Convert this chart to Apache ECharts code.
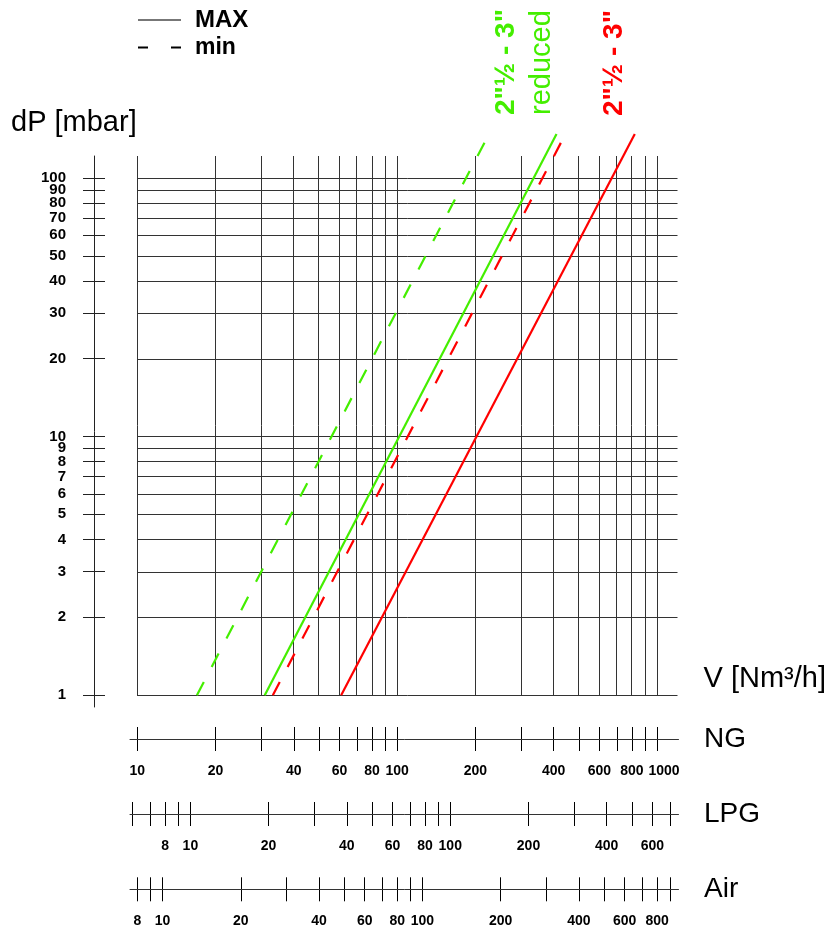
<!DOCTYPE html>
<html><head><meta charset="utf-8">
<script src="https://cdn.jsdelivr.net/npm/echarts@6/dist/echarts.min.js"></script>
<style>html,body{margin:0;padding:0;background:#fff}#c{width:832px;height:935px}</style>
</head><body><div id="c"></div>
<script>
// ---- data ----
const dpTicks = [1,2,3,4,5,6,7,8,9,10,20,30,40,50,60,70,80,90,100];
const ngTicks = [10,20,30,40,50,60,70,80,90,100,200,300,400,500,600,700,800,900,1000];
const ngLabels = [10,20,40,60,80,100,200,400,600,800,1000];
const lpgTicks = [6,7,8,9,10,20,30,40,50,60,70,80,90,100,200,300,400,500,600,700];
const lpgLabels = [8,10,20,40,60,80,100,200,400,600];
const airTicks = [8,9,10,20,30,40,50,60,70,80,90,100,200,300,400,500,600,700,800,900];
const airLabels = [8,10,20,40,60,80,100,200,400,600,800];
// [flow NG Nm3/h, dP mbar]
const reducedMax = [[31,1],[411,148]];
const reducedMin = [[17,1],[226,148]];
const standardMax = [[61,1],[822,148]];
const standardMin = [[33.3,1],[445,148]];
// scale conversions (NG flow / other gas flow)
const NG_PER_LPG = 1.6;
const NG_PER_AIR = 1.25;
const NG_MIN = 9.37, NG_MAX = 1209;
const DP_MIN_AXIS = 0.8987, DP_MAX = 121.6;

const GREEN = '#44ee00', RED = '#ff0000';
const FONT = '"Liberation Sans", Arial, Helvetica, sans-serif';
const GRID_COLOR = '#333';
const LABEL_RICH = { w: { fontSize: 14, fontWeight: 'bold', color: '#000', fontFamily: FONT, padding: [0, 0, 0, 14] } };

// a blank trailing label keeps the last real label from being dropped by the min/max overlap check
function withBlankEnd(labels, endValue) { return labels.concat([endValue]); }
function blankAbove(limit) {
  return function (v) {
    if (v > limit * 1.0001) return '';
    const s = String(Math.round(v));
    return s.length >= 4 ? '{w|' + s + '}' : s;
  };
}

function scaleAxis(gridIndex, min, max, ticks, labels, name) {
  return {
    type: 'log', gridIndex, min, max, logBase: 10,
    axisLine: { show: true, onZero: true, lineStyle: { color: '#333', width: 1 } },
    axisTick: { show: false, customValues: ticks },
    splitLine: { show: true, lineStyle: { color: '#000', width: 1 } },
    axisLabel: {
      customValues: withBlankEnd(labels, max), formatter: blankAbove(labels[labels.length - 1]),
      margin: 13, fontSize: 14, fontWeight: 'bold', color: '#000', fontFamily: FONT, rich: LABEL_RICH
    },
    name, nameLocation: 'end', nameGap: 25.5,
    nameTextStyle: { fontSize: 28, color: '#000', fontFamily: FONT }
  };
}
function hiddenVal(gridIndex, min, max) {
  return { type: 'value', gridIndex, min, max, show: false, splitLine: { show: false } };
}

const chart = echarts.init(document.getElementById('c'), null, { renderer: 'canvas' });
const option = {
  animation: false,
  backgroundColor: '#fff',
  textStyle: { fontFamily: FONT },
  title: {
    text: 'dP [mbar]', left: 6, top: 103,
    textStyle: { fontSize: 29, fontWeight: 'normal', color: '#000', fontFamily: FONT }
  },
  legend: {
    orient: 'vertical', left: 132, top: 3, itemWidth: 43, itemHeight: 14, itemGap: 4,
    itemStyle: { opacity: 0 },
    data: [
      { name: 'MAX', textStyle: { fontSize: 24 } },
      { name: 'min', textStyle: { fontSize: 23 } }
    ],
    textStyle: { fontWeight: 'bold', color: '#000', fontFamily: FONT, padding: [0, 0, 0, 9] }
  },
  grid: [
    { left: 137, right: 154.5, top: 156, bottom: 239.7 },
    { left: 94, width: 1, top: 156, bottom: 228 },
    { left: 130, right: 153.5, top: 727, height: 24 },
    { left: 130, right: 153.5, top: 802, height: 24 },
    { left: 130, right: 153.5, top: 877.3, height: 24 }
  ],
  xAxis: [
    {
      type: 'log', gridIndex: 0, min: 10, max: 1200, logBase: 10,
      axisLine: { show: false }, axisTick: { show: false, customValues: ngTicks },
      axisLabel: { show: false },
      splitLine: { show: true, lineStyle: { color: GRID_COLOR, width: 1 } },
      name: 'V [Nm³/h]', nameLocation: 'end', nameGap: 26,
      nameTextStyle: { fontSize: 29, color: '#000', verticalAlign: 'bottom', padding: [0, 0, 2, 0], fontFamily: FONT }
    },
    hiddenVal(1, 0, 1),
    scaleAxis(2, NG_MIN, NG_MAX, ngTicks, ngLabels, 'NG'),
    scaleAxis(3, NG_MIN / NG_PER_LPG, NG_MAX / NG_PER_LPG, lpgTicks, lpgLabels, 'LPG'),
    scaleAxis(4, NG_MIN / NG_PER_AIR, NG_MAX / NG_PER_AIR, airTicks, airLabels, 'Air')
  ],
  yAxis: [
    {
      type: 'log', gridIndex: 0, min: 1, max: DP_MAX, logBase: 10,
      axisLine: { show: false }, axisTick: { show: false, customValues: dpTicks },
      axisLabel: { show: false },
      splitLine: { show: true, lineStyle: { color: GRID_COLOR, width: 1 } }
    },
    {
      type: 'log', gridIndex: 1, min: DP_MIN_AXIS, max: DP_MAX, logBase: 10, position: 'left',
      axisLine: { show: true, lineStyle: { color: '#222', width: 1 } },
      axisTick: { show: true, inside: false, length: 11, customValues: dpTicks, lineStyle: { color: '#222', width: 1 } },
      axisLabel: {
        customValues: withBlankEnd(dpTicks, DP_MAX),
        formatter: function (v) { return v > 100.01 ? '' : String(Math.round(v)); },
        margin: 28, fontSize: 15, fontWeight: 'bold', color: '#000', fontFamily: FONT
      },
      splitLine: { show: false }
    },
    {
      type: 'log', gridIndex: 1, min: DP_MIN_AXIS, max: DP_MAX, logBase: 10, position: 'left',
      axisLine: { show: false },
      axisTick: { show: true, inside: true, length: 11, customValues: dpTicks, lineStyle: { color: '#222', width: 1 } },
      axisLabel: { show: false },
      splitLine: { show: false }
    },
    hiddenVal(2, -1, 1),
    hiddenVal(3, -1, 1),
    hiddenVal(4, -1, 1)
  ],
  series: [
    { name: '2"½ - 3" reduced MAX', type: 'line', xAxisIndex: 0, yAxisIndex: 0, data: reducedMax, symbol: 'none', clip: false,
      lineStyle: { color: GREEN, width: 2.2 }, itemStyle: { color: GREEN } },
    { name: '2"½ - 3" reduced min', type: 'line', xAxisIndex: 0, yAxisIndex: 0, data: reducedMin, symbol: 'none', clip: false,
      lineStyle: { color: GREEN, width: 2.2, type: [15, 17] }, itemStyle: { color: GREEN } },
    { name: '2"½ - 3" MAX', type: 'line', xAxisIndex: 0, yAxisIndex: 0, data: standardMax, symbol: 'none', clip: false,
      lineStyle: { color: RED, width: 2.2 }, itemStyle: { color: RED } },
    { name: '2"½ - 3" min', type: 'line', xAxisIndex: 0, yAxisIndex: 0, data: standardMin, symbol: 'none', clip: false,
      lineStyle: { color: RED, width: 2.2, type: [15, 17] }, itemStyle: { color: RED } },
    { name: 'MAX', type: 'line', xAxisIndex: 0, yAxisIndex: 0, data: [], symbol: 'none',
      lineStyle: { color: '#777', width: 1.5 }, itemStyle: { color: '#777' } },
    { name: 'min', type: 'line', xAxisIndex: 0, yAxisIndex: 0, data: [], symbol: 'none',
      lineStyle: { color: '#000', width: 1.5, type: [10, 23] }, itemStyle: { color: '#000' } }
  ],
  graphic: [
    { type: 'text', x: 506, y: 115, rotation: Math.PI / 2,
      style: { text: '2"½ - 3"', fill: GREEN, fontSize: 28, fontWeight: 'bold', fontFamily: FONT,
        align: 'left', verticalAlign: 'middle', textAlign: 'left', textVerticalAlign: 'middle' } },
    { type: 'text', x: 542, y: 115, rotation: Math.PI / 2,
      style: { text: 'reduced', fill: GREEN, fontSize: 29, fontWeight: 'normal', fontFamily: FONT,
        align: 'left', verticalAlign: 'middle', textAlign: 'left', textVerticalAlign: 'middle' } },
    { type: 'text', x: 614, y: 116, rotation: Math.PI / 2,
      style: { text: '2"½ - 3"', fill: RED, fontSize: 28, fontWeight: 'bold', fontFamily: FONT,
        align: 'left', verticalAlign: 'middle', textAlign: 'left', textVerticalAlign: 'middle' } }
  ]
};
chart.setOption(option);
</script>
</body></html>
